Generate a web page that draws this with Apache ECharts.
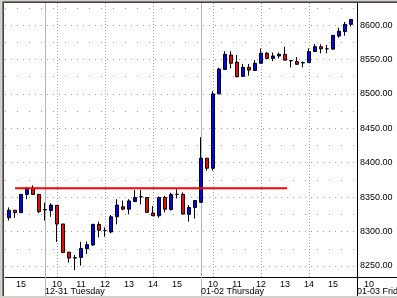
<!DOCTYPE html>
<html><head><meta charset="utf-8">
<script src="https://cdn.jsdelivr.net/npm/echarts@6/dist/echarts.min.js"></script>
<style>html,body{margin:0;padding:0;background:#d4d0c8;}#c{width:397px;height:298px;}</style>
</head><body><div id="c"></div>
<script>
// 15-minute bars; slot 0 = 12-31 09:30, 26 bars per session (09:30-16:00)
const slots = [-7,-6,-5,-4,-3,-2,-1,
  0,1,2,3,4,5,6,7,8,9,10,11,12,13,14,15,16,17,18,19,20,21,22,23,24,25,
  26,27,28,29,30,31,32,33,34,35,36,37,38,39,40,41,42,43,44,45,46,47,48,49,50,51];
const opens = [8320.5,8320,8331,8327.5,8354,8363,8354,
  8331.5,8330.5,8338,8311,8270,8262,8262.5,8275,8280.5,8310.5,8301.5,8299.5,8321.5,8336,8332.5,8343.5,8350.5,8349.5,8327,8323,8349.5,8332,8354,8354,8325,8335,
  8342.5,8406.5,8392,8500,8535.5,8556.5,8546,8525.5,8538.5,8534,8544.5,8559,8551.5,8555,8557.5,8548.5,8547,8545,8545.5,8561.5,8568.5,8565.5,8565,8584,8590.5,8601];
const closes = [8320,8331,8327.5,8354,8363,8354,8329,
  8332,8338.5,8311,8269.5,8261.5,8261.5,8275.5,8281,8310.5,8302,8301.5,8321.5,8338.5,8332.5,8344.5,8349.5,8350.5,8328,8323,8349.5,8332.5,8354,8354,8325.5,8335,8345,
  8406.5,8392,8500,8536,8557.5,8544.5,8525,8538.5,8534.5,8544.5,8559,8551.5,8555,8557.5,8549,8548,8543,8545.5,8561.5,8568.5,8565.5,8565.5,8585,8591,8601,8608];
const lows = [8319.5,8316,8320,8327,8347,8354,8327,
  8316,8321.5,8285,8269,8255,8244,8250.5,8267.5,8279,8291.5,8292.5,8297.5,8310.5,8331,8325,8343,8339.5,8327.5,8323,8320,8328,8330.5,8348,8325,8314.5,8319,
  8342,8388.5,8388.5,8499.5,8535,8537,8524,8524.5,8526.5,8533.5,8544,8550,8547.5,8551.5,8549,8538.5,8542.5,8538.5,8545,8561,8559,8559,8564.5,8581.5,8584.5,8598];
const highs = [8321,8335,8331,8354.5,8365,8367,8354,
  8342,8341,8338.5,8311,8270.5,8266,8285,8285.5,8311,8314.5,8306,8324,8347,8345,8347,8360.5,8360.5,8350,8337,8351,8352,8356.5,8361.5,8357,8338.5,8345.5,
  8437,8406.5,8504,8538,8562,8562,8556.5,8543.5,8543.5,8549,8566,8561,8560,8560,8568.5,8549,8553.5,8547,8566,8572.5,8572,8571,8585.5,8596,8604.5,8609];

// horizontal level line
const levelPrice = 8363;
const levelFromTo = [-5, 40.33];

// axis ticks / labels
const hourSlots = [-4,2,6,10,14,18,22,28,32,36,40,44,48];
const hourLabels = ['15','10','11','12','13','14','15','10','11','12','13','14','15'];
const gridHourSlots = [2,10,18,28,36,44];
const daySlots = [0,26];
const dayLabels = ['12-31 Tuesday','01-02 Thursday'];
const nextHourSlots = [54];
const nextHourLabels = ['10'];
const nextDaySlots = [52];
const nextDayLabels = ['01-03 Friday'];
const priceLabels = [8250,8300,8350,8400,8450,8500,8550,8600];
const priceMinor = [8275,8325,8375,8425,8475,8525,8575,8625];

const xMin = -20/3, xMax = 52, yMin = 8234, yMax = 8632;
const FONT = 'Liberation Sans';

const candles = slots.map((s,i)=>[s, opens[i], closes[i], lows[i], highs[i]]);

const chart = echarts.init(document.getElementById('c'), null, {renderer:'canvas'});
chart.setOption({
  animation:false,
  backgroundColor:'#d4d0c8',
  graphic:[
    {type:'rect', z:-100, silent:true, shape:{x:4,y:2,width:393,height:294}, style:{fill:'#ffffff'}},
    {type:'line', z:100, silent:true, shape:{x1:2.5,y1:1.5,x2:397,y2:1.5}, style:{stroke:'#808080',lineWidth:1}},
    {type:'line', z:100, silent:true, shape:{x1:2.5,y1:1.5,x2:2.5,y2:296}, style:{stroke:'#808080',lineWidth:1}},
    {type:'line', z:100, silent:true, shape:{x1:3.5,y1:2.5,x2:397,y2:2.5}, style:{stroke:'#404040',lineWidth:1}},
    {type:'line', z:100, silent:true, shape:{x1:3.5,y1:2.5,x2:3.5,y2:296}, style:{stroke:'#404040',lineWidth:1}}
  ],
  grid:[
    {left:5, right:40, top:3, bottom:21, outerBoundsMode:'none', containLabel:false},
    {left:357, right:0, top:3, bottom:21, outerBoundsMode:'none', containLabel:false}
  ],
  xAxis:[
    {type:'value', gridIndex:0, min:xMin, max:xMax, position:'bottom',
     axisLine:{show:true, onZero:false, lineStyle:{color:'#000', width:1}},
     axisTick:{show:false, customValues:gridHourSlots},
     splitLine:{show:true, lineStyle:{color:'#a0a0a0', width:1, type:[1,2]}},
     axisLabel:{customValues:hourSlots, color:'#000', fontSize:9, fontFamily:FONT, margin:3,
       formatter:(v)=>hourLabels[hourSlots.indexOf(v)]}},
    {type:'value', gridIndex:0, min:xMin, max:xMax, position:'bottom',
     axisLine:{show:false},
     axisTick:{show:true, customValues:daySlots, length:19, inside:false, lineStyle:{color:'#b4b4b4', width:1}},
     splitLine:{show:true, lineStyle:{color:'#b4b4b4', width:1, type:'solid'}},
     axisLabel:{customValues:daySlots, color:'#000', fontSize:9, fontFamily:FONT, margin:10, align:'left',
       formatter:(v)=>dayLabels[daySlots.indexOf(v)]}},
    {type:'value', gridIndex:1, min:52, max:52+40/6, position:'bottom',
     axisLine:{show:true, onZero:false, lineStyle:{color:'#000', width:1}},
     axisTick:{show:false}, splitLine:{show:false},
     axisLabel:{customValues:nextHourSlots, color:'#000', fontSize:9, fontFamily:FONT, margin:3,
       formatter:(v)=>nextHourLabels[nextHourSlots.indexOf(v)]}},
    {type:'value', gridIndex:1, min:52, max:52+40/6, position:'bottom',
     axisLine:{show:false},
     axisTick:{show:true, customValues:nextDaySlots, length:19, inside:false, lineStyle:{color:'#000', width:1}},
     splitLine:{show:false},
     axisLabel:{customValues:nextDaySlots, color:'#000', fontSize:9, fontFamily:FONT, margin:10, align:'left',
       formatter:(v)=>nextDayLabels[nextDaySlots.indexOf(v)]}}
  ],
  yAxis:[
    {type:'value', gridIndex:0, min:yMin, max:yMax, position:'right',
     axisLine:{show:true, onZero:false, lineStyle:{color:'#000', width:1}},
     axisTick:{show:false, customValues:priceLabels},
     splitLine:{show:true, lineStyle:{color:'#a0a0a0', width:1, type:[1,5]}},
     axisLabel:{customValues:priceLabels, color:'#000', fontSize:9, fontFamily:FONT, margin:3, align:'left',
       formatter:(v)=>v.toFixed(2)}},
    {type:'value', gridIndex:0, min:yMin, max:yMax, position:'right',
     axisLine:{show:false}, axisTick:{show:false, customValues:priceMinor},
     splitLine:{show:true, lineStyle:{color:'#a0a0a0', width:1, type:[1,11]}},
     axisLabel:{show:false}},
    {type:'value', gridIndex:1, min:yMin, max:yMax, show:false}
  ],
  series:[
    {type:'candlestick', xAxisIndex:0, yAxisIndex:0, data:candles, barWidth:4, z:2,
     itemStyle:{color:'#0000ff', color0:'#ff0000', borderColor:'#000', borderColor0:'#000', borderColorDoji:'#000', borderWidth:1}},
    {type:'line', xAxisIndex:0, yAxisIndex:0, z:3, symbol:'none',
     data:[[levelFromTo[0], levelPrice],[levelFromTo[1], levelPrice]],
     lineStyle:{color:'#ff0000', width:2}}
  ]
});
</script></body></html>
